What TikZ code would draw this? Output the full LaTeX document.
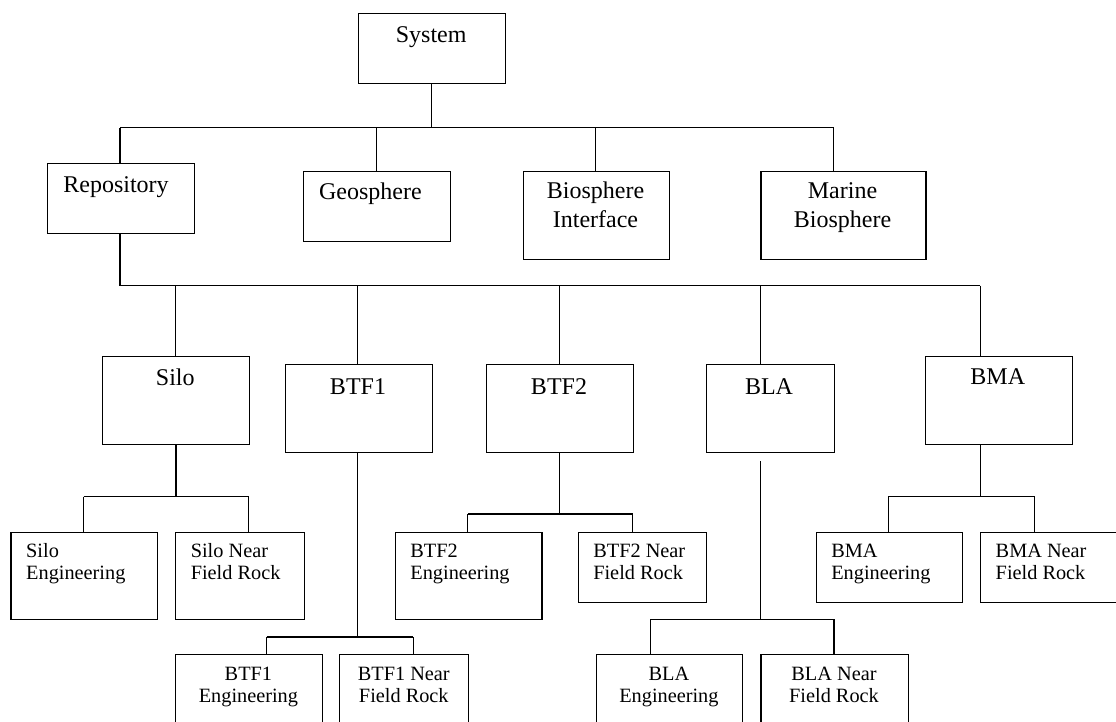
\documentclass[tikz,border=0pt]{standalone}
\usepackage{fontspec}
\setmainfont{Liberation Serif}
\begin{document}
\begin{tikzpicture}[x=1pt,y=-1pt,
  box/.style={draw, line width=1.15pt, rectangle, inner sep=0pt, anchor=north west},
  link/.style={line width=1.15pt},
  bigtxt/.style={font=\fontsize{24}{28.5}\selectfont, inner sep=0pt},
  smalltxt/.style={font=\fontsize{20.3}{22}\selectfont, inner sep=0pt}]
\useasboundingbox (0,0) rectangle (1116,722);

% ---- boxes ----
\node[box, minimum width=147pt,   minimum height=70pt]   (sys)   at (357.7,12.7)  {};
\node[box, minimum width=147.1pt, minimum height=70.3pt] (rep)   at (46.8,162.7)  {};
\node[box, minimum width=146.7pt, minimum height=70pt]   (geo)   at (302.9,171)   {};
\node[box, minimum width=146.4pt, minimum height=88pt]   (bio)   at (522.9,171)   {};
\node[box, minimum width=165pt,   minimum height=88pt]   (mar)   at (760.4,171)   {};

\node[box, minimum width=147.1pt, minimum height=88pt]   (silo)  at (101.8,356)   {};
\node[box, minimum width=147.2pt, minimum height=87.7pt] (btf1)  at (284.6,364.3) {};
\node[box, minimum width=146.5pt, minimum height=87.7pt] (btf2)  at (486.1,364.3) {};
\node[box, minimum width=128.2pt, minimum height=87.7pt] (bla)   at (705.7,364.3) {};
\node[box, minimum width=147pt,   minimum height=88pt]   (bma)   at (924.6,356)   {};

\node[box, minimum width=146.7pt, minimum height=87.6pt] (siloE) at (10.4,531.7)  {};
\node[box, minimum width=128.6pt, minimum height=87.6pt] (siloN) at (175,531.7)   {};
\node[box, minimum width=146.8pt, minimum height=87.6pt] (btf2E) at (394.6,531.7) {};
\node[box, minimum width=128.2pt, minimum height=70.3pt] (btf2N) at (577.5,531.7) {};
\node[box, minimum width=146.2pt, minimum height=70.3pt] (bmaE)  at (815.5,531.7) {};
\node[box, minimum width=146.3pt, minimum height=70.3pt] (bmaN)  at (979.7,531.7) {};

\node[box, minimum width=146.8pt, minimum height=90pt]   (btf1E) at (175,654.3)   {};
\node[box, minimum width=129pt,   minimum height=90pt]   (btf1N) at (339.3,654.3) {};
\node[box, minimum width=146.2pt, minimum height=90pt]   (blaE)  at (595.8,654.3) {};
\node[box, minimum width=147.3pt, minimum height=90pt]   (blaN)  at (760.4,654.3) {};

% ---- labels ----
\node[bigtxt, anchor=base] (sys-t) at (431.2,42.5) {System};
\node[bigtxt, anchor=base west] (rep-t) at (63.2,192.5) {Repository};
\node[bigtxt, anchor=base west] (geo-t) at (318.9,200) {Geosphere};
\node[bigtxt, anchor=base] (bio-t1) at (595.5,199) {Biosphere};
\node[bigtxt, anchor=base] (bio-t2) at (595.5,227.5) {Interface};
\node[bigtxt, anchor=base] (mar-t1) at (842.5,199) {Marine};
\node[bigtxt, anchor=base] (mar-t2) at (842.5,227.5) {Biosphere};

\node[bigtxt, anchor=base] (silo-t) at (175.3,385.5) {Silo};
\node[bigtxt, anchor=base] (btf1-t) at (358,394.5) {BTF1};
\node[bigtxt, anchor=base] (btf2-t) at (559,394.5) {BTF2};
\node[bigtxt, anchor=base] (bla-t)  at (769,394.5) {BLA};
\node[bigtxt, anchor=base] (bma-t)  at (997.8,384.5) {BMA};

\node[smalltxt, anchor=base west] (siloE-t1) at (26,557.5) {Silo};
\node[smalltxt, anchor=base west] (siloE-t2) at (26,579.5) {Engineering};
\node[smalltxt, anchor=base west] (siloN-t1) at (190.6,557.5) {Silo Near};
\node[smalltxt, anchor=base west] (siloN-t2) at (190.6,579.5) {Field Rock};
\node[smalltxt, anchor=base west] (btf2E-t1) at (410.2,557.5) {BTF2};
\node[smalltxt, anchor=base west] (btf2E-t2) at (410.2,579.5) {Engineering};
\node[smalltxt, anchor=base west] (btf2N-t1) at (593.1,557.5) {BTF2 Near};
\node[smalltxt, anchor=base west] (btf2N-t2) at (593.1,579.5) {Field Rock};
\node[smalltxt, anchor=base west] (bmaE-t1) at (831.1,557.5) {BMA};
\node[smalltxt, anchor=base west] (bmaE-t2) at (831.1,579.5) {Engineering};
\node[smalltxt, anchor=base west] (bmaN-t1) at (995.5,557.5) {BMA Near};
\node[smalltxt, anchor=base west] (bmaN-t2) at (995.5,579.5) {Field Rock};

\node[smalltxt, anchor=base] (btf1E-t1) at (248.4,680) {BTF1};
\node[smalltxt, anchor=base] (btf1E-t2) at (248.4,702.5) {Engineering};
\node[smalltxt, anchor=base] (btf1N-t1) at (403.8,680) {BTF1 Near};
\node[smalltxt, anchor=base] (btf1N-t2) at (403.8,702.5) {Field Rock};
\node[smalltxt, anchor=base] (blaE-t1) at (668.9,680) {BLA};
\node[smalltxt, anchor=base] (blaE-t2) at (668.9,702.5) {Engineering};
\node[smalltxt, anchor=base] (blaN-t1) at (834,680) {BLA Near};
\node[smalltxt, anchor=base] (blaN-t2) at (834,702.5) {Field Rock};

% ---- junction points on the bars ----
\coordinate (s-rep) at (120,127.7);
\coordinate (s-geo) at (376.4,127.7);
\coordinate (s-bio) at (595.8,127.7);
\coordinate (s-mar) at (833.9,127.7);

\coordinate (s-silo) at (175.3,285.7);
\coordinate (s-btf1) at (357.9,285.7);
\coordinate (s-btf2) at (559.1,285.7);
\coordinate (s-bla)  at (760.4,285.7);
\coordinate (s-bma)  at (980.1,285.7);

\coordinate (s-siloE) at (83.6,496.7);
\coordinate (s-siloN) at (248.6,496.7);
\coordinate (s-btf1E) at (266.6,637);
\coordinate (s-btf1N) at (413.3,637);
\coordinate (s-btf2E) at (467.9,514);
\coordinate (s-btf2N) at (632.6,514);
\coordinate (bla-top) at (760.4,461);
\coordinate (s-blaE)  at (650.6,619.3);
\coordinate (s-blaN)  at (834,619.3);
\coordinate (s-bmaE)  at (888.3,496.7);
\coordinate (s-bmaN)  at (1034.8,496.7);

% ---- connectors ----
% System level
\draw[link] (sys.south) -- (sys.south |- s-rep);
\draw[link] (s-rep) -- (s-mar);
\foreach \c in {rep, geo, bio, mar}
  \draw[link] (s-\c) -- (s-\c |- \c.north);
% Repository level
\draw[link] (s-rep |- rep.south) -- (s-rep |- s-silo) -- (s-bma);
\foreach \c in {silo, btf1, btf2, bla, bma}
  \draw[link] (s-\c) -- (s-\c |- \c.north);
% Silo
\draw[link] (silo.south) -- (silo.south |- s-siloE);
\draw[link] (s-siloE) -- (s-siloN);
\draw[link] (s-siloE) -- (s-siloE |- siloE.north);
\draw[link] (s-siloN) -- (s-siloN |- siloN.north);
% BTF1
\draw[link] (s-btf1 |- btf1.south) -- (s-btf1 |- s-btf1E);
\draw[link] (s-btf1E) -- (s-btf1N);
\draw[link] (s-btf1E) -- (s-btf1E |- btf1E.north);
\draw[link] (s-btf1N) -- (s-btf1N |- btf1N.north);
% BTF2
\draw[link] (s-btf2 |- btf2.south) -- (s-btf2 |- s-btf2E);
\draw[link] (s-btf2E) -- (s-btf2N);
\draw[link] (s-btf2E) -- (s-btf2E |- btf2E.north);
\draw[link] (s-btf2N) -- (s-btf2N |- btf2N.north);
% BLA
\draw[link] (bla-top) -- (bla-top |- s-blaE);
\draw[link] (s-blaE) -- (s-blaN);
\draw[link] (s-blaE) -- (s-blaE |- blaE.north);
\draw[link] (s-blaN) -- (s-blaN |- blaN.north);
% BMA
\draw[link] (s-bma |- bma.south) -- (s-bma |- s-bmaE);
\draw[link] (s-bmaE) -- (s-bmaN);
\draw[link] (s-bmaE) -- (s-bmaE |- bmaE.north);
\draw[link] (s-bmaN) -- (s-bmaN |- bmaN.north);
\end{tikzpicture}
\end{document}
